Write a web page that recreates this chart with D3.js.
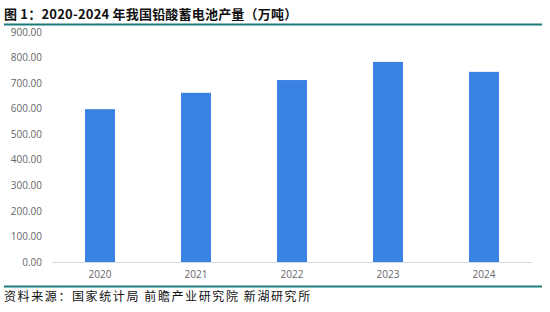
<!DOCTYPE html>
<html>
<head>
<meta charset="utf-8">
<script src="https://cdn.jsdelivr.net/npm/d3@7/dist/d3.min.js"></script>
<style>
  html, body { margin: 0; padding: 0; background: #fff; }
  svg { display: block; }
</style>
</head>
<body>
<svg id="chart" width="550" height="312"></svg>
<script>
// 2020-2024 lead-acid battery output (10k tonnes)
const years = ["2020", "2021", "2022", "2023", "2024"];
const output = [598, 662, 712, 783, 744];
const yTicks = [0, 100, 200, 300, 400, 500, 600, 700, 800, 900];
const titleText = "图 1：2020-2024 年我国铅酸蓄电池产量（万吨）";
const sourceText = "资料来源：国家统计局 前瞻产业研究院 新湖研究所";

const svg = d3.select("#chart");
const plot = { left: 52, right: 532, top: 32, bottom: 262 };

const x = d3.scaleBand()
  .domain(years)
  .range([plot.left, plot.right])
  .paddingInner(0.6875)
  .paddingOuter(0.34375);

const y = d3.scaleLinear()
  .domain([0, 900])
  .range([plot.bottom, plot.top]);

// Title and rule
svg.append("text")
  .attr("x", 4).attr("y", 19)
  .attr("font-family", "'Noto Sans CJK SC', sans-serif")
  .attr("font-weight", "bold")
  .attr("font-size", 13)
  .attr("letter-spacing", 0.2)
  .attr("fill", "#111")
  .text(titleText);

svg.append("line")
  .attr("x1", 4).attr("x2", 542)
  .attr("y1", 24.5).attr("y2", 24.5)
  .attr("stroke", "#1b7b7b").attr("stroke-width", 2);

// Y axis labels
const yAxis = d3.axisLeft(y)
  .tickValues(yTicks)
  .tickFormat(d3.format(".2f"))
  .tickSize(0)
  .tickPadding(10);

const gy = svg.append("g")
  .attr("transform", `translate(${plot.left},0)`)
  .call(yAxis);
gy.select(".domain").remove();
gy.selectAll("text")
  .attr("font-family", "'Open Sans', 'Noto Sans', sans-serif")
  .attr("font-size", 10)
  .attr("fill", "#666");

// Bars
svg.append("g")
  .selectAll("rect")
  .data(years.map((yr, i) => ({ yr, v: output[i] })))
  .join("rect")
  .attr("x", d => x(d.yr))
  .attr("y", d => y(d.v))
  .attr("width", x.bandwidth())
  .attr("height", d => y(0) - y(d.v))
  .attr("fill", "#3a82e2");

// X axis
const xAxis = d3.axisBottom(x).tickSize(0).tickPadding(9);
const gx = svg.append("g")
  .attr("transform", `translate(0,${plot.bottom})`)
  .call(xAxis);
gx.select(".domain").attr("stroke", "#d9d9d9").attr("stroke-width", 1);
gx.selectAll("text")
  .attr("font-family", "'Open Sans', 'Noto Sans', sans-serif")
  .attr("font-size", 10)
  .attr("fill", "#666");

// Bottom rule and source
svg.append("line")
  .attr("x1", 4).attr("x2", 542)
  .attr("y1", 286.5).attr("y2", 286.5)
  .attr("stroke", "#1b7b7b").attr("stroke-width", 2);

svg.append("text")
  .attr("x", 4).attr("y", 301)
  .attr("font-family", "'Noto Sans CJK SC', sans-serif")
  .attr("font-size", 12)
  .attr("letter-spacing", 1.6)
  .attr("fill", "#111")
  .text(sourceText);
</script>
</body>
</html>
